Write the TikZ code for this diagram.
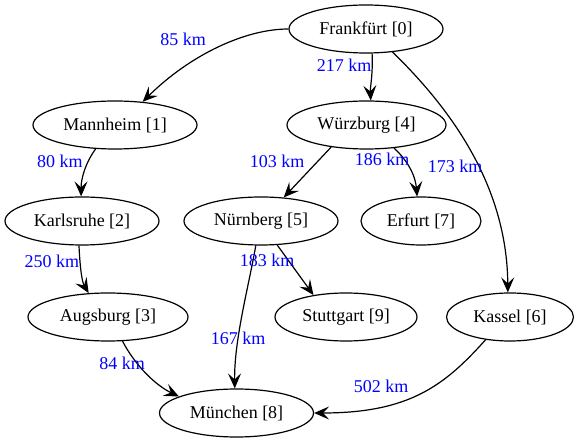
\documentclass[tikz,border=0pt]{standalone}
\usepackage{fontspec}
\setmainfont{Liberation Serif}
\usetikzlibrary{shapes.geometric,arrows.meta}
\tikzset{
  city/.style={draw, ellipse, line width=1.2pt, inner sep=0pt, minimum height=48pt, font=\fontsize{18}{20}\selectfont},
  edge/.style={line width=1.2pt, -{Stealth[length=15pt,width=13pt,inset=6pt]}},
  km/.style={text=blue, inner sep=0pt, font=\fontsize{18}{20}\selectfont}
}
\begin{document}
\begin{tikzpicture}[x=1pt,y=-1pt]
\useasboundingbox (0,0) rectangle (579,443);
\node[city, minimum width=154pt] (n0) at (366,29) {Frankfürt [0]};
\node[city, minimum width=164pt] (n1) at (115,125) {Mannheim [1]};
\node[city, minimum width=159pt] (n4) at (366.5,125) {Würzburg [4]};
\node[city, minimum width=154pt] (n2) at (82,221) {Karlsruhe [2]};
\node[city, minimum width=154pt] (n5) at (261,221) {Nürnberg [5]};
\node[city, minimum width=120pt] (n7) at (421,221) {Erfurt [7]};
\node[city, minimum width=160pt] (n3) at (108,317) {Augsburg [3]};
\node[city, minimum width=142pt] (n9) at (346,317) {Stuttgart [9]};
\node[city, minimum width=127pt] (n6) at (510,317) {Kassel [6]};
\node[city, minimum width=154pt] (n8) at (236.5,413) {München [8]};

\draw[edge] (n0.west) .. controls (245,29) and (190,55) .. (n1.40);
\draw[edge] (n0.-76) .. controls (373,75) and (370,88) .. (n4.80);
\draw[edge] (n0.-41) .. controls (450,108) and (507,185) .. (n6.95);
\draw[edge] (n1.-129) .. controls (86,162) and (81,178) .. (n2.92);
\draw[edge] (n4.212.5) -- (n5.46);
\draw[edge] (n4.-40) .. controls (404,157) and (415,172) .. (n7.99);
\draw[edge] (n2.-97) .. controls (80,268) and (82,282) .. (n3.129);
\draw[edge] (n5.-56) -- (n9.146);
\draw[edge] (n5.-102) .. controls (249,285) and (234,340) .. (n8.94);
\draw[edge] (n3.-59) .. controls (135,365) and (155,385) .. (n8.164);
\draw[edge] (n6.-137) .. controls (445,385) and (410,413) .. (n8.east);

\node[km] (l01) at (183,39) {85 km};
\node[km] (l04) at (344,65) {217 km};
\node[km] (l06) at (455,166) {173 km};
\node[km] (l12) at (60,161) {80 km};
\node[km] (l45) at (277,161) {103 km};
\node[km] (l47) at (382,159) {186 km};
\node[km] (l23) at (52,261) {250 km};
\node[km] (l59) at (267,260) {183 km};
\node[km] (l58) at (238,338) {167 km};
\node[km] (l38) at (122,363) {84 km};
\node[km] (l68) at (381,386) {502 km};
\end{tikzpicture}
\end{document}
